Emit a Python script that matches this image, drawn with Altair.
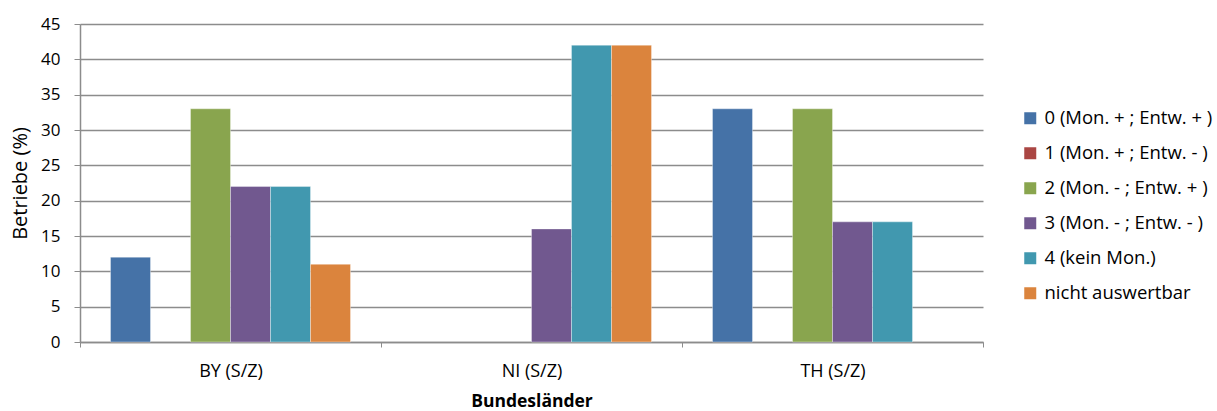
import altair as alt
import pandas as pd

# Bundesländer groups and legend categories
laender = ["BY (S/Z)", "NI (S/Z)", "TH (S/Z)"]
kategorien = [
    "0 (Mon. + ; Entw. + )",
    "1 (Mon. + ; Entw. - )",
    "2 (Mon. - ; Entw. + )",
    "3 (Mon. - ; Entw. - )",
    "4 (kein Mon.)",
    "nicht auswertbar",
]
farben = ["#4572A7", "#AA4643", "#89A54E", "#71588F", "#4198AF", "#DB843D"]

# Anteil der Betriebe (%) je Kategorie, pro Bundesland
werte_by = [12, 0, 33, 22, 22, 11]
werte_ni = [0, 0, 0, 16, 42, 42]
werte_th = [33, 0, 33, 17, 17, 0]

rows = []
for land, werte in zip(laender, [werte_by, werte_ni, werte_th]):
    for kat, w in zip(kategorien, werte):
        rows.append({"Land": land, "Kategorie": kat, "Wert": w})
df = pd.DataFrame(rows)

FONT = "Open Sans"
GRAU = "#8c8c8c"

chart = (
    alt.Chart(df)
    .transform_filter("datum.Wert > 0")
    .mark_bar(stroke="#ffffff", strokeOpacity=0.35, strokeWidth=1)
    .encode(
        x=alt.X(
            "Land:N",
            sort=laender,
            title="Bundesländer",
            scale=alt.Scale(domain=laender, paddingInner=0, paddingOuter=0),
            axis=alt.Axis(
                labelAngle=0,
                tickBand="extent",
                tickSize=5,
                tickColor=GRAU,
                domainColor=GRAU,
                labelFontSize=18,
                labelPadding=15,
                titlePadding=12,
                titleFontSize=17.5,
                titleFontWeight="bold",
            ),
        ),
        xOffset=alt.XOffset(
            "Kategorie:N",
            sort=kategorien,
            scale=alt.Scale(domain=kategorien, paddingInner=0, paddingOuter=0.7625),
        ),
        y=alt.Y(
            "Wert:Q",
            title="Betriebe (%)",
            scale=alt.Scale(domain=[0, 45], nice=False),
            axis=alt.Axis(
                values=list(range(0, 50, 5)),
                tickSize=6,
                tickColor=GRAU,
                domainColor=GRAU,
                gridColor=GRAU,
                labelFontSize=17,
                labelPadding=14,
                titlePadding=10,
                titleFontSize=20,
                titleFontWeight="normal",
            ),
        ),
        color=alt.Color(
            "Kategorie:N",
            sort=kategorien,
            scale=alt.Scale(domain=kategorien, range=farben),
            legend=alt.Legend(
                title=None,
                orient="none",
                legendX=941,
                legendY=85,
                symbolType="square",
                symbolSize=144,
                symbolStrokeWidth=0,
                rowPadding=16,
                labelFontSize=18.5,
                labelLimit=0,
                labelFont=FONT,
                labelColor="#000000",
                labelOffset=5,
            ),
        ),
    )
    .properties(
        width=903,
        height=318,
        autosize=alt.AutoSizeParams(type="none"),
        padding={"left": 80, "top": 24, "right": 234, "bottom": 69},
    )
    .configure_view(stroke=None)
    .configure_axis(
        labelFont=FONT,
        titleFont=FONT,
        labelColor="#000000",
        titleColor="#000000",
        domainWidth=1.5,
        gridWidth=1.5,
    )
)

chart.save("out.html", embed_options={"renderer": "svg", "actions": False})
